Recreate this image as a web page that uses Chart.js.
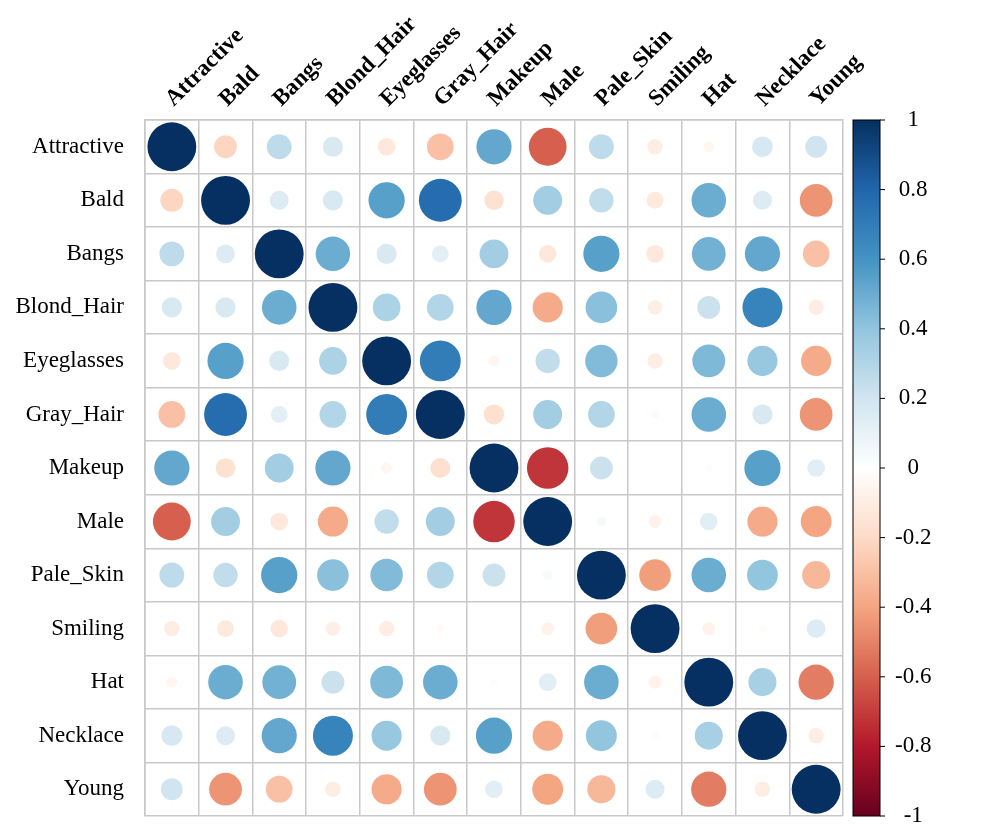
<!DOCTYPE html>
<html>
<head>
<meta charset="utf-8">
<script src="https://cdn.jsdelivr.net/npm/chart.js@4.4.1/dist/chart.umd.min.js"></script>
<style>
  html, body { margin: 0; padding: 0; background: #fff; overflow: hidden; }
</style>
</head>
<body>
<canvas id="corr" width="981" height="834"></canvas>
<script>
// attribute names (rows top to bottom, columns left to right)
const names = ['Attractive', 'Bald', 'Bangs', 'Blond_Hair', 'Eyeglasses', 'Gray_Hair',
  'Makeup', 'Male', 'Pale_Skin', 'Smiling', 'Hat', 'Necklace', 'Young'];

// correlation rows
const attractive = [1, -0.22, 0.26, 0.17, -0.13, -0.30, 0.52, -0.60, 0.26, -0.10, -0.05, 0.18, 0.20];
const bald       = [-0.22, 1, 0.15, 0.17, 0.55, 0.77, -0.16, 0.35, 0.25, -0.12, 0.50, 0.15, -0.45];
const bangs      = [0.26, 0.15, 1, 0.50, 0.17, 0.12, 0.35, -0.13, 0.55, -0.13, 0.48, 0.52, -0.30];
const blondHair  = [0.17, 0.17, 0.50, 1, 0.32, 0.30, 0.52, -0.38, 0.42, -0.09, 0.22, 0.67, -0.10];
const eyeglasses = [-0.13, 0.55, 0.17, 0.32, 1, 0.70, -0.05, 0.25, 0.44, -0.10, 0.45, 0.38, -0.38];
const grayHair   = [-0.30, 0.77, 0.12, 0.30, 0.70, 1, -0.17, 0.35, 0.30, -0.03, 0.50, 0.17, -0.45];
const makeup     = [0.52, -0.16, 0.35, 0.52, -0.05, -0.17, 1, -0.72, 0.22, 0.01, 0.02, 0.55, 0.13];
const male       = [-0.60, 0.35, -0.13, -0.38, 0.25, 0.35, -0.72, 1, 0.04, -0.07, 0.13, -0.38, -0.40];
const paleSkin   = [0.26, 0.25, 0.55, 0.42, 0.44, 0.30, 0.22, 0.04, 1, -0.42, 0.50, 0.40, -0.33];
const smiling    = [-0.10, -0.12, -0.13, -0.09, -0.10, -0.03, 0.01, -0.07, -0.42, 1, -0.07, -0.02, 0.15];
const hat        = [-0.05, 0.50, 0.48, 0.22, 0.45, 0.50, 0.02, 0.13, 0.50, -0.07, 1, 0.33, -0.52];
const necklace   = [0.18, 0.15, 0.52, 0.67, 0.38, 0.17, 0.55, -0.38, 0.40, -0.02, 0.33, 1, -0.10];
const young      = [0.20, -0.45, -0.30, -0.10, -0.38, -0.45, 0.13, -0.40, -0.33, 0.15, -0.52, -0.10, 1];

const rows = [attractive, bald, bangs, blondHair, eyeglasses, grayHair, makeup,
  male, paleSkin, smiling, hat, necklace, young];

// RdBu ramp from -1 to 1
const palette = ['#67001F', '#B2182B', '#D6604D', '#F4A582', '#FDDBC7', '#FFFFFF',
  '#D1E5F0', '#92C5DE', '#4393C3', '#2166AC', '#053061'];

function hexToRgb(h) {
  return [parseInt(h.slice(1, 3), 16), parseInt(h.slice(3, 5), 16), parseInt(h.slice(5, 7), 16)];
}

function corrColor(v) {
  const t = (v + 1) / 2 * (palette.length - 1);
  const i = Math.min(Math.floor(t), palette.length - 2);
  const f = t - i;
  const a = hexToRgb(palette[i]);
  const b = hexToRgb(palette[i + 1]);
  const c = a.map((x, k) => Math.round(x + (b[k] - x) * f));
  return `rgb(${c[0]}, ${c[1]}, ${c[2]})`;
}

const points = [];
rows.forEach((row, r) => {
  row.forEach((v, c) => points.push({ x: names[c], y: names[r], v: v }));
});

// rotated bold column names above the grid
const topLabels = {
  id: 'topLabels',
  afterDraw(chart) {
    const s = chart.scales.x;
    const ctx = chart.ctx;
    ctx.save();
    ctx.fillStyle = '#000';
    ctx.font = 'bold 23px "Liberation Serif"';
    ctx.textAlign = 'left';
    ctx.textBaseline = 'alphabetic';
    names.forEach((n, i) => {
      ctx.save();
      ctx.translate(s.getPixelForTick(i) + 2, s.bottom - 13);
      ctx.rotate(-Math.PI / 4);
      ctx.fillText(n, 0, 0);
      ctx.restore();
    });
    ctx.restore();
  },
};

// gradient bar + tick marks for the colour key
const colorBar = {
  id: 'colorBar',
  afterDraw(chart) {
    const s = chart.scales.cbar;
    const ctx = chart.ctx;
    const x0 = s.left + 10;
    const w = 27;
    const top = s.getPixelForValue(1);
    const bottom = s.getPixelForValue(-1);
    const g = ctx.createLinearGradient(0, bottom, 0, top);
    palette.forEach((c, i) => g.addColorStop(i / (palette.length - 1), c));
    ctx.save();
    ctx.fillStyle = g;
    ctx.fillRect(x0, top, w, bottom - top);
    ctx.strokeStyle = '#000';
    ctx.lineWidth = 1;
    ctx.strokeRect(x0, top, w, bottom - top);
    s.ticks.forEach((t) => {
      const y = s.getPixelForValue(t.value);
      ctx.beginPath();
      ctx.moveTo(x0 + w, y);
      ctx.lineTo(x0 + w + 5, y);
      ctx.stroke();
    });
    ctx.restore();
  },
};

const gridColor = '#c8c8c8';

new Chart(document.getElementById('corr'), {
  type: 'scatter',
  data: {
    datasets: [{
      data: points,
      pointRadius: (ctx) => {
        const a = ctx.chart.chartArea;
        if (!a) return 0;
        const cell = (a.right - a.left) / names.length;
        return Math.sqrt(Math.abs(ctx.raw.v)) * cell * 0.455;
      },
      pointBackgroundColor: (ctx) => corrColor(ctx.raw.v),
      pointBorderWidth: 0,
    }],
  },
  options: {
    responsive: false,
    animation: false,
    events: [],
    layout: { padding: { top: 0, right: 0, bottom: 18, left: 0 } },
    plugins: { legend: { display: false }, tooltip: { enabled: false } },
    scales: {
      x: {
        type: 'category',
        labels: names,
        position: 'top',
        offset: true,
        grid: { offset: true, color: gridColor, lineWidth: 1.5, drawTicks: false },
        border: { color: gridColor, width: 1.5 },
        ticks: { display: false },
        afterFit: (s) => { s.height = 120; },
      },
      y: {
        type: 'category',
        labels: names,
        offset: true,
        grid: { offset: true, color: gridColor, lineWidth: 1.5, drawTicks: false },
        border: { color: gridColor, width: 1.5 },
        ticks: {
          autoSkip: false,
          padding: 21,
          color: '#000',
          font: { family: 'Liberation Serif', size: 23 },
        },
        afterFit: (s) => {
          s.width = 145;
          s.paddingTop = 0;
          s.paddingBottom = 0;
        },
      },
      cbar: {
        type: 'linear',
        position: 'right',
        min: -1,
        max: 1,
        grid: { display: false },
        border: { display: false },
        ticks: {
          stepSize: 0.2,
          crossAlign: 'center',
          padding: 44,
          color: '#000',
          font: { family: 'Liberation Serif', size: 23 },
          callback: (v) => String(Math.round(v * 10) / 10),
        },
        afterFit: (s) => {
          s.width = 138;
          s.paddingTop = 0;
          s.paddingBottom = 0;
        },
      },
    },
  },
  plugins: [topLabels, colorBar],
});
</script>
</body>
</html>
